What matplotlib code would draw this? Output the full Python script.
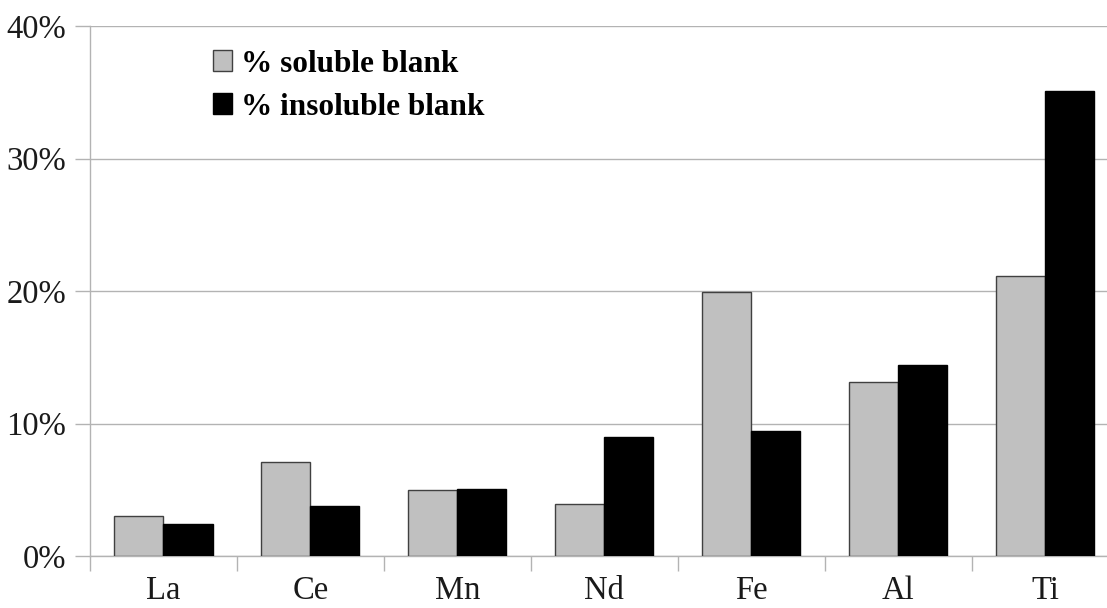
import matplotlib.pyplot as plt
import numpy as np
from matplotlib.ticker import FuncFormatter

# values (percent)
elements = ['La', 'Ce', 'Mn', 'Nd', 'Fe', 'Al', 'Ti']
soluble_blank = [3.0, 7.1, 5.0, 3.9, 19.9, 13.1, 21.1]
insoluble_blank = [2.4, 3.8, 5.05, 9.0, 9.4, 14.4, 35.1]

plt.rcParams['font.family'] = ['Liberation Serif', 'DejaVu Serif']

fig = plt.figure(figsize=(11.07, 6.08), dpi=100)
# right edge of the plot area runs past the picture, as in the original
ax = fig.add_axes([90 / 1107, 52 / 608, 1028.5 / 1107, 530 / 608])

x = np.arange(len(elements))
w = 0.334
ax.bar(x - w / 2, soluble_blank, w, color='#c0c0c0', edgecolor='#404040',
       linewidth=1.0, label='% soluble blank', zorder=3)
ax.bar(x + w / 2, insoluble_blank, w, color='black', edgecolor='black',
       linewidth=1.0, label='% insoluble blank', zorder=3)

ax.set_xlim(-0.5, len(elements) - 0.5)
ax.set_ylim(0, 40)
ax.set_yticks([0, 10, 20, 30, 40])
ax.yaxis.set_major_formatter(FuncFormatter(lambda v, p: f'{v:.0f}%'))
ax.yaxis.grid(True, color='#b3b3b3', linewidth=1.0, zorder=0)

# category labels without marks, marks at the boundaries
ax.set_xticks(x)
ax.set_xticklabels(elements)
ax.set_xticks(np.arange(-0.5, len(elements)), minor=True)
ax.tick_params(axis='x', which='major', length=0, pad=14, labelsize=23.5,
               labelcolor='#1a1a1a')
ax.tick_params(axis='x', which='minor', length=11, width=1.0, color='#b3b3b3')
ax.tick_params(axis='y', length=11, width=1.0, color='#b3b3b3', labelsize=23.5,
               pad=6, labelcolor='#1a1a1a')

for s in ['top', 'right']:
    ax.spines[s].set_visible(False)
for s in ['left', 'bottom']:
    ax.spines[s].set_color('#b3b3b3')
    ax.spines[s].set_linewidth(1.0)

ax.legend(loc='upper left', bbox_to_anchor=(200 / 1107, 1 - 37 / 608),
          bbox_transform=fig.transFigure, frameon=False,
          prop={'weight': 'bold', 'size': 22.5},
          handlelength=0.62, handleheight=0.62, handletextpad=0.3,
          labelspacing=0.45, borderaxespad=0)

fig.savefig('out.png', dpi=100)
